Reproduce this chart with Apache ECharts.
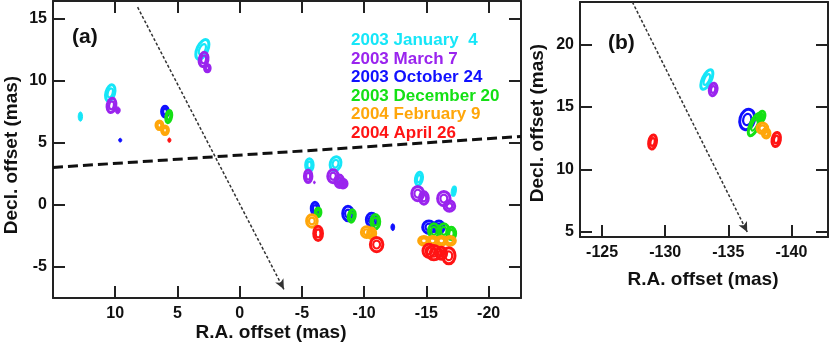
<!DOCTYPE html>
<html>
<head>
<meta charset="utf-8">
<script src="https://cdn.jsdelivr.net/npm/echarts@6/dist/echarts.min.js"></script>
<style>
  html, body { margin: 0; padding: 0; background: #fff; }
  #chart { width: 830px; height: 350px; }
</style>
</head>
<body>
<div id="chart"></div>
<script>
// epochs (legend text) and maser spots: [RA offset, Decl offset, width, height, tilt deg] in mas
const epochs = ['2003 January  4', '2003 March 7', '2003 October 24', '2003 December 20', '2004 February 9', '2004 April 26'];

const jan2003 = [
  [12.8, 7.1, 0.35, 0.75, 0], [10.4, 9.0, 0.7, 1.35, 15], [3.0, 12.5, 0.85, 1.7, 25],
  [-5.6, 3.2, 0.6, 1.0, 0], [-7.7, 3.3, 0.85, 1.15, 15], [-7.9, 2.1, 0.25, 0.5, 0],
  [-14.4, 2.1, 0.55, 1.05, 10], [-14.6, 0.8, 0.2, 0.5, 0], [-17.2, 1.1, 0.4, 0.85, 10],
  [-133.3, 17.2, 0.7, 1.7, 25]
];
const mar2003 = [
  [10.3, 8.0, 0.7, 1.15, 10], [9.8, 7.6, 0.4, 0.55, 0], [2.9, 11.7, 0.7, 1.15, 10], [2.6, 11.0, 0.45, 0.6, 0],
  [-5.5, 2.3, 0.6, 1.0, 0], [-6.0, 1.8, 0.15, 0.2, 0], [-7.5, 2.3, 0.85, 1.05, 0], [-8.0, 1.9, 0.7, 1.0, 0],
  [-8.3, 1.7, 0.65, 0.7, 0], [-14.3, 0.9, 0.95, 1.15, 0], [-14.8, 0.55, 0.7, 1.0, 0],
  [-16.4, 0.5, 1.0, 1.15, 0], [-16.85, -0.1, 0.85, 0.85, 0],
  [-133.8, 16.4, 0.6, 1.0, 10]
];
const oct2003 = [
  [9.6, 5.2, 0.25, 0.3, 0], [6.0, 7.5, 0.55, 0.85, 0], [-6.05, -0.3, 0.6, 1.0, 0],
  [-8.7, -0.7, 0.85, 1.15, 0], [-10.6, -1.2, 0.85, 1.05, 0], [-12.3, -1.8, 0.3, 0.55, 0],
  [-15.2, -1.8, 1.0, 1.0, 0], [-16.0, -1.8, 0.85, 1.0, 0],
  [-136.5, 14.0, 1.15, 1.65, 15]
];
const dec2003 = [
  [5.7, 7.1, 0.45, 1.0, 10], [-6.3, -0.6, 0.45, 0.7, 0], [-9.0, -0.9, 0.55, 1.0, 10],
  [-10.9, -1.35, 0.7, 1.15, 0], [-15.6, -2.1, 0.85, 1.15, 0], [-16.4, -2.1, 0.85, 1.15, 0],
  [-17.0, -2.3, 0.7, 1.0, 0],
  [-137.1, 13.6, 0.7, 1.95, 25], [-137.6, 14.2, 0.55, 0.95, 20]
];
const feb2004 = [
  [6.45, 6.4, 0.55, 0.7, 0], [6.0, 6.0, 0.55, 0.7, 0], [-5.8, -1.3, 0.85, 1.0, 0],
  [-10.2, -2.2, 0.85, 0.85, 0], [-10.6, -2.3, 0.65, 0.85, 0],
  [-14.8, -2.9, 0.85, 0.7, 0], [-15.5, -2.9, 0.85, 0.7, 0], [-16.2, -2.9, 0.85, 0.7, 0], [-16.9, -2.9, 0.85, 0.7, 0],
  [-137.7, 13.3, 0.85, 0.85, 0], [-138.0, 12.9, 0.6, 0.75, 0]
];
const apr2004 = [
  [5.65, 5.2, 0.25, 0.35, 0], [-6.3, -2.3, 0.7, 1.15, 0], [-11.0, -3.2, 1.0, 1.15, 0],
  [-15.2, -3.7, 0.95, 1.05, 0], [-15.6, -3.85, 1.15, 1.15, 0], [-16.2, -3.9, 0.85, 0.95, 0], [-16.8, -4.1, 1.0, 1.3, 0],
  [-129.0, 12.2, 0.6, 1.15, 10], [-138.8, 12.4, 0.65, 1.15, 10]
];
const spots = [jan2003, mar2003, oct2003, dec2003, feb2004, apr2004];

// tick labels
const raTicksA = [10, 5, 0, -5, -10, -15, -20];
const decTicksA = [-5, 0, 5, 10, 15];
const raTicksB = [-125, -130, -135, -140];
const decTicksB = [5, 10, 15, 20];

// dashed boundary and dotted arrows [RA, Decl]
const dashedLineA = [[15, 3.0], [-22.6, 5.5]];
const arrowA = [[8.2, 15.9], [-3.55, -6.8]];
const arrowB = [[-127.4, 23.4], [-136.5, 5.0]];

const colors = ['#16e6f8', '#9a24ee', '#1010ff', '#14e014', '#ffa60a', '#ff1414'];
const FONT = '"Liberation Sans", Arial, sans-serif';

const chart = echarts.init(document.getElementById('chart'), null, { renderer: 'canvas' });

// each spot: outer contour plus an inner contour, tilted clockwise by the given angle
function renderSpot(params, api) {
  const c = api.coord([api.value(0), api.value(1)]);
  const s = api.size([api.value(2), api.value(3)], [api.value(0), api.value(1)]);
  const rx = Math.abs(s[0]) / 2, ry = Math.abs(s[1]) / 2;
  const rot = -api.value(4) * Math.PI / 180;
  const color = api.visual('color');
  const small = rx < 2.6;
  const children = [{
    type: 'ellipse',
    shape: { cx: 0, cy: 0, rx: rx, ry: ry },
    style: { fill: small ? color : 'none', stroke: color, lineWidth: small ? 1 : 3 }
  }];
  if (!small) {
    children.push({
      type: 'ellipse',
      shape: { cx: 0, cy: 0, rx: rx * 0.55, ry: ry * 0.55 },
      style: { fill: 'none', stroke: color, lineWidth: 2.2 }
    });
  }
  return { type: 'group', x: c[0], y: c[1], rotation: rot, children: children };
}

const frameLine = { show: true, onZero: false, lineStyle: { color: '#222', width: 2 } };
const tickStyle = { inside: true, length: 12, lineStyle: { color: '#222', width: 2 } };
const labelStyle = { fontFamily: FONT, fontWeight: 'bold', fontSize: 16, color: '#111' };

function xAx(grid, pos, min, max, ticks, labels) {
  return {
    type: 'value', gridIndex: grid, position: pos, inverse: true, min: min, max: max,
    axisLine: frameLine, splitLine: { show: false },
    axisTick: Object.assign({ show: !!ticks, customValues: ticks || [] }, tickStyle),
    axisLabel: Object.assign({ show: labels, customValues: ticks || [], margin: 8 }, labelStyle)
  };
}
function yAx(grid, pos, min, max, ticks, labels) {
  return {
    type: 'value', gridIndex: grid, position: pos, min: min, max: max,
    axisLine: frameLine, splitLine: { show: false },
    axisTick: Object.assign({ show: !!ticks, customValues: ticks || [] }, tickStyle),
    axisLabel: Object.assign({ show: labels, customValues: ticks || [], margin: 6 }, labelStyle)
  };
}

const series = [];
spots.forEach((list, i) => {
  series.push({
    name: epochs[i], type: 'custom', xAxisIndex: 0, yAxisIndex: 0,
    itemStyle: { color: colors[i] }, renderItem: renderSpot, silent: true,
    data: list.filter(p => p[0] > -30)
  });
  series.push({
    name: epochs[i], type: 'custom', xAxisIndex: 2, yAxisIndex: 2,
    itemStyle: { color: colors[i] }, renderItem: renderSpot, silent: true,
    data: list.filter(p => p[0] <= -30)
  });
});
series.push({
  type: 'line', xAxisIndex: 0, yAxisIndex: 0, data: dashedLineA, symbol: 'none', silent: true,
  lineStyle: { color: '#111', width: 3, type: [10, 5] }
});
series.push({
  type: 'line', xAxisIndex: 0, yAxisIndex: 0, data: [], silent: true,
  markLine: {
    silent: true, symbol: ['none', 'arrow'], symbolSize: [7, 10], label: { show: false },
    lineStyle: { color: '#333', width: 1.5, type: [3, 2] },
    data: [[{ coord: arrowA[0] }, { coord: arrowA[1] }]]
  }
});
series.push({
  type: 'line', xAxisIndex: 2, yAxisIndex: 2, data: [], silent: true,
  markLine: {
    silent: true, symbol: ['none', 'arrow'], symbolSize: [7, 10], label: { show: false },
    lineStyle: { color: '#333', width: 1.5, type: [3, 2] },
    data: [[{ coord: arrowB[0] }, { coord: arrowB[1] }]]
  }
});

const titleFont = 'bold 19px ' + FONT;
const option = {
  animation: false,
  backgroundColor: '#fff',
  grid: [
    { left: 53, top: 1, width: 468, height: 297 },
    { left: 580, top: 2, width: 248, height: 235 }
  ],
  xAxis: [
    xAx(0, 'bottom', -22.6, 15, raTicksA, true),
    xAx(0, 'top', -22.6, 15, raTicksA, false),
    xAx(1, 'bottom', -142.9, -123.25, raTicksB, true),
    xAx(1, 'top', -142.9, -123.25, null, false)
  ],
  yAxis: [
    yAx(0, 'left', -7.5, 16.4, decTicksA, true),
    yAx(0, 'right', -7.5, 16.4, decTicksA, false),
    yAx(1, 'left', 4.6, 23.4, decTicksB, true),
    yAx(1, 'right', 4.6, 23.4, decTicksB, false)
  ],
  legend: {
    orient: 'vertical', left: 341, top: 26, itemWidth: 0, itemHeight: 0, itemGap: 0,
    selectedMode: false, icon: 'rect',
    textStyle: { fontFamily: FONT, fontWeight: 'bold', fontSize: 17, lineHeight: 18.6 },
    data: epochs.map((e, i) => ({ name: e, textStyle: { color: colors[i] } }))
  },
  graphic: [
    { type: 'text', x: 72, y: 37, style: { text: '(a)', font: 'bold 21px ' + FONT, fill: '#111', verticalAlign: 'middle' } },
    { type: 'text', x: 608, y: 43, style: { text: '(b)', font: 'bold 21px ' + FONT, fill: '#111', verticalAlign: 'middle' } },
    { type: 'text', x: 271, y: 333, style: { text: 'R.A. offset (mas)', font: titleFont, fill: '#111', align: 'center', verticalAlign: 'middle' } },
    { type: 'text', x: 703, y: 280, style: { text: 'R.A. offset (mas)', font: titleFont, fill: '#111', align: 'center', verticalAlign: 'middle' } },
    { type: 'text', x: 12, y: 155, rotation: Math.PI / 2, style: { text: 'Decl. offset (mas)', font: titleFont, fill: '#111', align: 'center', verticalAlign: 'middle' } },
    { type: 'text', x: 538, y: 123, rotation: Math.PI / 2, style: { text: 'Decl. offset (mas)', font: titleFont, fill: '#111', align: 'center', verticalAlign: 'middle' } }
  ],
  series: series
};

chart.setOption(option);
</script>
</body>
</html>
